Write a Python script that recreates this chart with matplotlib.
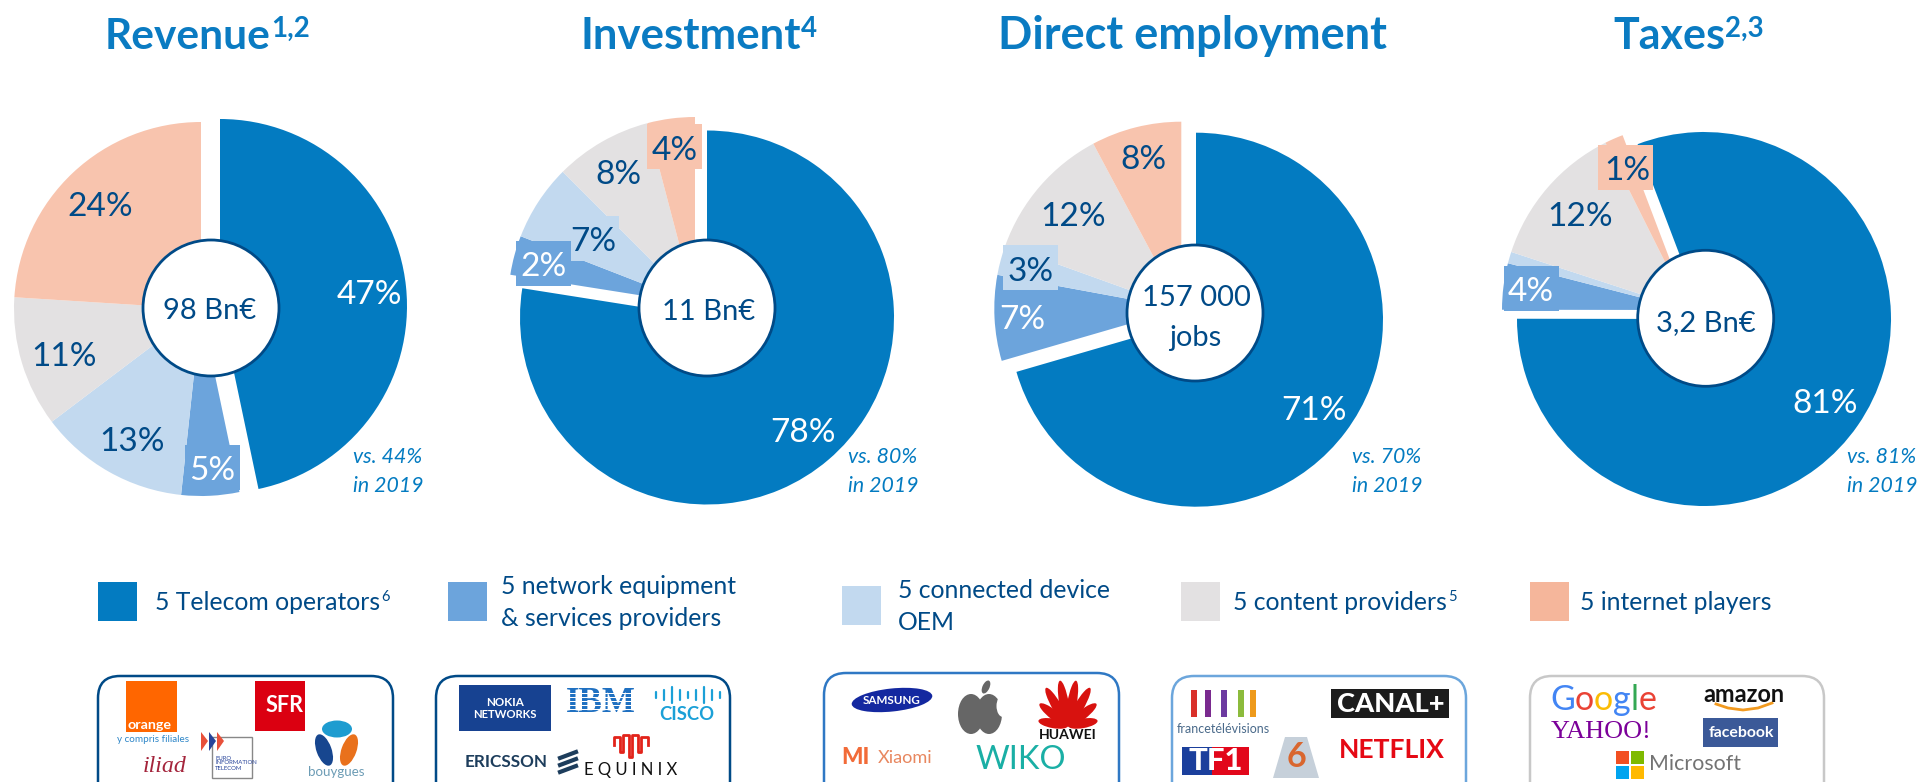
import math
import matplotlib
matplotlib.use("Agg")
import matplotlib.pyplot as plt
from matplotlib.patches import Rectangle, Circle, Ellipse, FancyBboxPatch, Polygon

W, H = 1921, 782
FONT = "Lato"
plt.rcParams["font.family"] = [FONT, "DejaVu Sans"]

# ---------- data ----------
categories = ["5 Telecom operators", "5 network equipment\n& services providers",
              "5 connected device\nOEM", "5 content providers", "5 internet players"]
panel_titles = ["Revenue", "Investment", "Direct employment", "Taxes"]
panel_sups = ["1,2", "4", "", "2,3"]
revenue_share = [46.7, 5.0, 13.0, 11.3, 24.0]
investment_share = [77.5, 3.4, 6.6, 8.4, 4.1]
employment_share = [70.5, 7.4, 2.6, 11.7, 7.8]
taxes_share = [80.8, 4.0, 1.0, 12.6, 1.6]
revenue_labels = ["47%", "5%", "13%", "11%", "24%"]
investment_labels = ["78%", "2%", "7%", "8%", "4%"]
employment_labels = ["71%", "7%", "3%", "12%", "8%"]
taxes_labels = ["81%", "4%", "", "12%", "1%"]
totals = ["98 Bn€", "11 Bn€", "157 000\njobs", "3,2 Bn€"]
notes = ["vs. 44%\nin 2019", "vs. 80%\nin 2019", "vs. 70%\nin 2019", "vs. 81%\nin 2019"]

# ---------- styles ----------
BLUE, MID, LIGHT, GREY, SALMON = "#037BC1", "#6CA4DC", "#C2D9EF", "#E3E1E2", "#F8C4AE"
NAVY = "#004A87"
colors = [BLUE, MID, LIGHT, GREY, SALMON]
legend_colors = [BLUE, MID, LIGHT, GREY, "#F5B69B"]

panels = [
    dict(share=revenue_share, labels=revenue_labels, start=90, main=(220, 306), rest=(201, 309),
         hub=(211, 308), total_xy=[(210, 309)], note_x=388, title_x=105, title_size=30.5,
         lab=[(369, 292), (212, 468), (132, 439), (64, 354), (100, 204)],
         lcol=["w", "w", NAVY, NAVY, NAVY], boxes=[(1, 185, 445)]),
    dict(share=investment_share, labels=investment_labels, start=90, main=(707, 317.5), rest=(695, 304),
         hub=(707, 308), total_xy=[(709, 310)], note_x=883, title_x=580, title_size=31.5,
         lab=[(803, 430), (544, 264), (593, 239), (618, 172), (675, 148)],
         lcol=["w", "w", NAVY, NAVY, NAVY], boxes=[(2, 564, 216), (1, 516, 241), (4, 647, 124)]),
    dict(share=employment_share, labels=employment_labels, start=90, main=(1196, 319.7), rest=(1181.3, 308.7),
         hub=(1195, 313), total_xy=[(1196, 296), (1195, 336)], note_x=1387, title_x=998, title_size=32.5,
         lab=[(1314, 408), (1022, 317), (1031, 269), (1073, 214), (1143, 157)],
         lcol=["w", "w", NAVY, NAVY, NAVY], boxes=[(2, 1003, 245)]),
    dict(share=taxes_share, labels=taxes_labels, start=110.8, main=(1704, 319), rest=(1689, 310),
         hub=(1705.7, 318.3), total_xy=[(1706, 321)], note_x=1882, title_x=1613, title_size=31,
         lab=[(1825, 401), (1531, 289), (0, 0), (1580, 214), (1627, 168)],
         lcol=["w", "w", NAVY, NAVY, NAVY], boxes=[(1, 1504, 266), (4, 1598, 145)]),
]

fig = plt.figure(figsize=(W / 100, H / 100), dpi=100, facecolor="w")
ax = fig.add_axes([0, 0, 1, 1])


def Y(y):
    return H - y


# ---------- pies ----------
for p in panels:
    wedges, _ = ax.pie(p["share"], colors=colors, radius=187, startangle=p["start"], counterclock=False,
                       center=(p["rest"][0], Y(p["rest"][1])), wedgeprops=dict(linewidth=0), frame=True)
    wedges[0].set_center((p["main"][0], Y(p["main"][1])))
    for w_ in wedges:
        w_.set_zorder(1)

ax.set_xlim(0, W)
ax.set_ylim(0, H)
ax.set_aspect("auto")
ax.axis("off")
r = fig.canvas.get_renderer()


def txt(x, y, s, size, color=NAVY, ha="center", va="center", **k):
    k.setdefault("zorder", 6)
    return ax.text(x, Y(y), s, fontsize=size, color=color, ha=ha, va=va, **k)


def fit(s, x0, x1, y, color, **k):
    t = txt((x0 + x1) / 2, y, s, 10, color, **k)
    t.set_fontsize(10 * (x1 - x0) / t.get_window_extent(r).width)
    return t


def rect(x0, y0, x1, y1, color, z=3, **k):
    ax.add_patch(Rectangle((x0, Y(y1)), x1 - x0, y1 - y0, fc=color, ec="none", zorder=z, **k))


for p in panels:
    for idx, bx, by in p["boxes"]:
        rect(bx, by, bx + 55, by + 45, colors[idx], z=2)
    ax.add_patch(Circle((p["hub"][0], Y(p["hub"][1])), 68, fc="w", ec=NAVY, lw=2, zorder=4))
    for (lx, ly), s, c in zip(p["lab"], p["labels"], p["lcol"]):
        if s:
            txt(lx, ly + 3, s, 24, c)

for p, tot, note in zip(panels, totals, notes):
    for (tx, ty), line in zip(p["total_xy"], tot.split("\n")):
        txt(tx, ty + 2, line, 21)
    for dy, line in zip((457, 486), note.split("\n")):
        txt(p["note_x"], dy, line, 15.3, BLUE, style="italic")

# ---------- titles ----------
for p, title, sup in zip(panels, panel_titles, panel_sups):
    t = txt(p["title_x"], 49, title, p["title_size"], "#0A7BC2", ha="left", va="baseline", fontweight="bold")
    if sup:
        txt(t.get_window_extent(r).x1, 37, sup, 20, "#0A7BC2", ha="left", va="baseline", fontweight="bold")

# ---------- legend ----------
leg_sq = [(98, 582), (448, 582), (842, 586), (1181, 582), (1530, 582)]
leg_tx = [(155, [603]), (501, [587, 619]), (898, [591, 622]), (1233, [603]), (1580, [603])]
leg_sup = ["6", "", "", "5", ""]
for c, (sx, sy), (tx, ys), name, sup in zip(legend_colors, leg_sq, leg_tx, categories, leg_sup):
    rect(sx, sy, sx + 39, sy + 39, c)
    for ty, line in zip(ys, name.split("\n")):
        t = txt(tx, ty, line, 17.8, ha="left")
    if sup:
        txt(t.get_window_extent(r).x1 + 1, 597, sup, 10.5, ha="left")

# ---------- logo frames ----------
frames = [(98, 393, 676, NAVY), (436, 730, 676, NAVY), (824, 1119, 673, "#2F78C4"),
          (1172, 1466, 676, "#6CA6DC"), (1530, 1824, 676, "#C8C8C8")]
for x0, x1, top, c in frames:
    ax.add_patch(FancyBboxPatch((x0 + 22, Y(830)), x1 - x0 - 44, 830 - top - 22,
                                boxstyle="round,pad=22,rounding_size=22", fc="w", ec=c, lw=1.8, zorder=2))

NARROW = ["Liberation Sans Narrow", "Lato"]

# operators
rect(126, 681, 177, 732, "#FF6600")
fit("orange", 128, 172, 725, "w", fontweight="bold")
rect(255, 681, 305, 731, "#DB0011")
fit("SFR", 266, 304, 706, "w", fontweight="bold")
fit("y compris filiales", 117, 189, 740, "#2E86C8")
for x0, c in zip((201, 209, 217), ("#E8503A", "#28449A", "#E8503A")):
    ax.add_patch(Polygon([(x0, Y(732)), (x0 + 7, Y(741)), (x0, Y(751))], fc=c, ec="none", zorder=4))
ax.add_patch(Rectangle((212, Y(778)), 40, 41, fc="w", ec="#888888", lw=1, zorder=3))
for yy, s in zip((758, 763, 768), ("EURO", "INFORMATION", "TELECOM")):
    txt(215, yy, s, 4.3, "#28449A", ha="left")
fit("iliad", 143, 187, 767, "#A4243B", style="italic", family="Liberation Serif")
ax.add_patch(Ellipse((337, Y(729)), 30, 17, fc="#1E9CD0", ec="none", zorder=3))
ax.add_patch(Ellipse((324, Y(750)), 15, 33, angle=20, fc="#17468F", ec="none", zorder=3))
ax.add_patch(Ellipse((349, Y(750)), 15, 33, angle=-20, fc="#E9711C", ec="none", zorder=3))
fit("bouygues", 308, 365, 772, "#6C9CB5")

# network
rect(459, 685, 551, 731, "#174291")
fit("NOKIA", 486, 524, 703, "w", fontweight="bold")
fit("NETWORKS", 473, 537, 714, "w", fontweight="bold")
fit("IBM", 566, 636, 704, "#1F70C1", fontweight="bold", family="Liberation Serif")
for yy in range(693, 720, 4):
    rect(560, yy, 642, yy + 1.3, "w", z=7)
for bx, h in zip(range(656, 722, 8), (3, 5, 8, 5, 3, 5, 8, 5, 3)):
    ax.plot([bx, bx], [Y(695 - h), Y(695 + h)], color="#1BA0D7", lw=1.6, zorder=3, solid_capstyle="round")
fit("CISCO", 659, 714, 715, "#1BA0D7", fontweight="bold")
fit("ERICSSON", 465, 548, 762, "#1D3D5C", fontweight="bold")
for yy in (755, 762, 769):
    ax.plot([560, 576], [Y(yy + 3), Y(yy - 3)], color="#1D3D5C", lw=3, zorder=3)
fit("E Q U I N I X", 585, 677, 770, "#111111")
squig_x = [614, 614, 620, 620, 623, 623, 629, 629, 632, 632, 638, 638, 641, 641, 648, 648]
squig_y = [745, 737, 737, 752, 752, 735, 735, 757, 757, 735, 735, 752, 752, 737, 737, 745]
ax.plot(squig_x, [Y(v) for v in squig_y], color="#E2231A", lw=2, zorder=3)

# devices
ax.add_patch(Ellipse((892, Y(700)), 81, 23, angle=6, fc="#1428A0", ec="none", zorder=3))
fit("SAMSUNG", 863, 921, 700, "w", fontweight="bold")
fit("MI", 841, 869, 758, "#F26B38", fontweight="black")
fit("Xiaomi", 878, 933, 758, "#E8875F")
for ex in (971, 989):
    ax.add_patch(Ellipse((ex, Y(714)), 26, 40, fc="#666666", ec="none", zorder=3))
ax.add_patch(Ellipse((1003, Y(706)), 13, 22, fc="w", ec="none", zorder=4))
ax.add_patch(Ellipse((986, Y(687)), 7, 14, angle=-25, fc="#666666", ec="none", zorder=3))
for ang, ln in ((-80, 30), (-52, 36), (-30, 44), (-10, 46), (10, 46), (30, 44), (52, 36), (80, 30)):
    cx = 1068 + ln / 2 * math.sin(math.radians(ang))
    cy = 726 - ln / 2 * math.cos(math.radians(ang))
    ax.add_patch(Ellipse((cx, Y(cy)), 9.5, ln, angle=-ang, fc="#D8120F", ec="none", zorder=3))
fit("HUAWEI", 1039, 1097, 735, "#111111", fontweight="bold")
fit("WIKO", 976, 1066, 760, "#1AAFA5")

# content
for bx, c in zip((1191, 1205, 1221, 1238, 1250), ("#D9302A", "#7A2A8F", "#6C3AA0", "#8CBB3C", "#EE9A1B")):
    rect(bx, 690, bx + 6, 717, c)
fit("francetélévisions", 1177, 1270, 729, "#4A6A8A")
rect(1331, 689, 1449, 718, "#1C1C1C")
fit("CANAL+", 1337, 1444, 703.5, "w", fontweight="black")
fit("NETFLIX", 1339, 1445, 750, "#E50914", fontweight="bold", family=NARROW)
rect(1182, 747, 1212, 775, "#1B3F9C")
rect(1212, 747, 1249, 775, "#E2071B")
fit("TF1", 1188, 1243, 761, "w", fontweight="black")
ax.add_patch(Polygon([(1273, Y(778)), (1285, Y(737)), (1307, Y(737)), (1319, Y(778))], fc="#C6D0DA", ec="none", zorder=3))
fit("6", 1286, 1306, 757, "#D9662E", fontweight="bold")

# internet
gx = 1550
for ch, c in zip("Google", ("#4285F4", "#EA4335", "#FBBC05", "#4285F4", "#34A853", "#EA4335")):
    t = txt(gx, 700, ch, 24.5, c, ha="left")
    gx = t.get_window_extent(r).x1
fit("amazon", 1703, 1784, 695, "#111111", fontweight="bold")
smile_x = [1716, 1728, 1743, 1758, 1772]
smile_y = [704, 708, 710, 708, 703]
ax.plot(smile_x, [Y(v) for v in smile_y], color="#F29A1F", lw=2, zorder=3)
fit("YAHOO!", 1551, 1652, 732, "#7B0099", family="Liberation Serif")
rect(1703, 718, 1778, 747, "#3B5998")
fit("facebook", 1708, 1774, 733, "w", fontweight="bold")
for (sx, sy), c in zip([(1616, 751), (1630.5, 751), (1616, 765.5), (1630.5, 765.5)],
                       ("#F25022", "#7FBA00", "#00A4EF", "#FFB900")):
    rect(sx, sy, sx + 13, sy + 13, c)
fit("Microsoft", 1649, 1741, 764, "#737373")

fig.savefig("out.png", dpi=100, facecolor="w")
